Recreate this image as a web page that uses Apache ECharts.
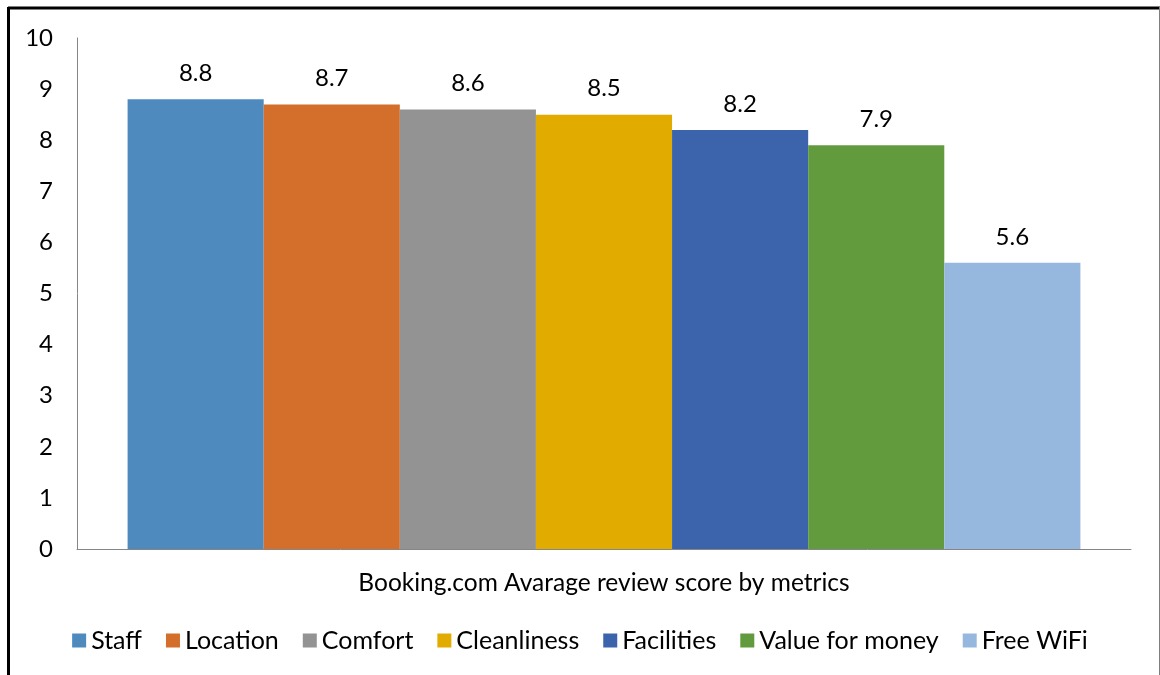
<!DOCTYPE html>
<html>
<head>
<meta charset="utf-8">
<script src="https://cdn.jsdelivr.net/npm/echarts@6/dist/echarts.min.js"></script>
<style>html,body{margin:0;padding:0;background:#fff;}#c{width:1160px;height:675px;}</style>
</head>
<body>
<div id="c"></div>
<script>
const categories = ["Booking.com Avarage review score by metrics"];
const seriesNames = ["Staff", "Location", "Comfort", "Cleanliness", "Facilities", "Value for money", "Free WiFi"];
const seriesValues = [8.8, 8.7, 8.6, 8.5, 8.2, 7.9, 5.6];
const seriesColors = ["#4F8ABE", "#D36E2B", "#939393", "#E2AB00", "#3C64AC", "#629A3E", "#97B8DE"];
const yTicks = [0, 1, 2, 3, 4, 5, 6, 7, 8, 9, 10];

const FONT = "Lato";
const FS = 24;
const chart = echarts.init(document.getElementById('c'), null, {renderer: 'canvas'});
chart.setOption({
  animation: false,
  backgroundColor: '#fff',
  textStyle: {fontFamily: FONT},
  grid: {left: 77, right: 29, top: 38, bottom: 126, containLabel: false},
  legend: {
    top: 623, left: 'center',
    itemWidth: 14, itemHeight: 14, itemGap: 24,
    icon: 'rect',
    textStyle: {fontFamily: FONT, fontSize: 25, color: '#000'},
    data: seriesNames
  },
  xAxis: {
    type: 'category', data: categories,
    axisLine: {lineStyle: {color: '#868686', width: 1}},
    axisTick: {show: false},
    axisLabel: {margin: 22, fontFamily: FONT, fontSize: 24.5, color: '#000'}
  },
  yAxis: {
    type: 'value', min: yTicks[0], max: yTicks[yTicks.length - 1], interval: 1,
    axisLine: {show: true, lineStyle: {color: '#868686', width: 1}},
    axisTick: {show: false},
    splitLine: {show: false},
    axisLabel: {margin: 24, fontFamily: FONT, fontSize: FS, color: '#000'}
  },
  series: seriesNames.map((n, i) => ({
    name: n, type: 'bar',
    data: [seriesValues[i]],
    barGap: '0%', barCategoryGap: '9.6%',
    itemStyle: {color: seriesColors[i]},
    label: {show: true, position: 'top', distance: 14, fontFamily: FONT, fontSize: FS, color: '#000'}
  })),
  graphic: [
    {type: 'line', shape: {x1: 8, y1: 8, x2: 1160, y2: 8}, style: {stroke: '#000', lineWidth: 3}},
    {type: 'line', shape: {x1: 8.5, y1: 7, x2: 8.5, y2: 675}, style: {stroke: '#000', lineWidth: 3}},
    {type: 'line', shape: {x1: 1159.5, y1: 7, x2: 1159.5, y2: 675}, style: {stroke: '#7f7f7f', lineWidth: 1}}
  ]
});
</script>
</body>
</html>
